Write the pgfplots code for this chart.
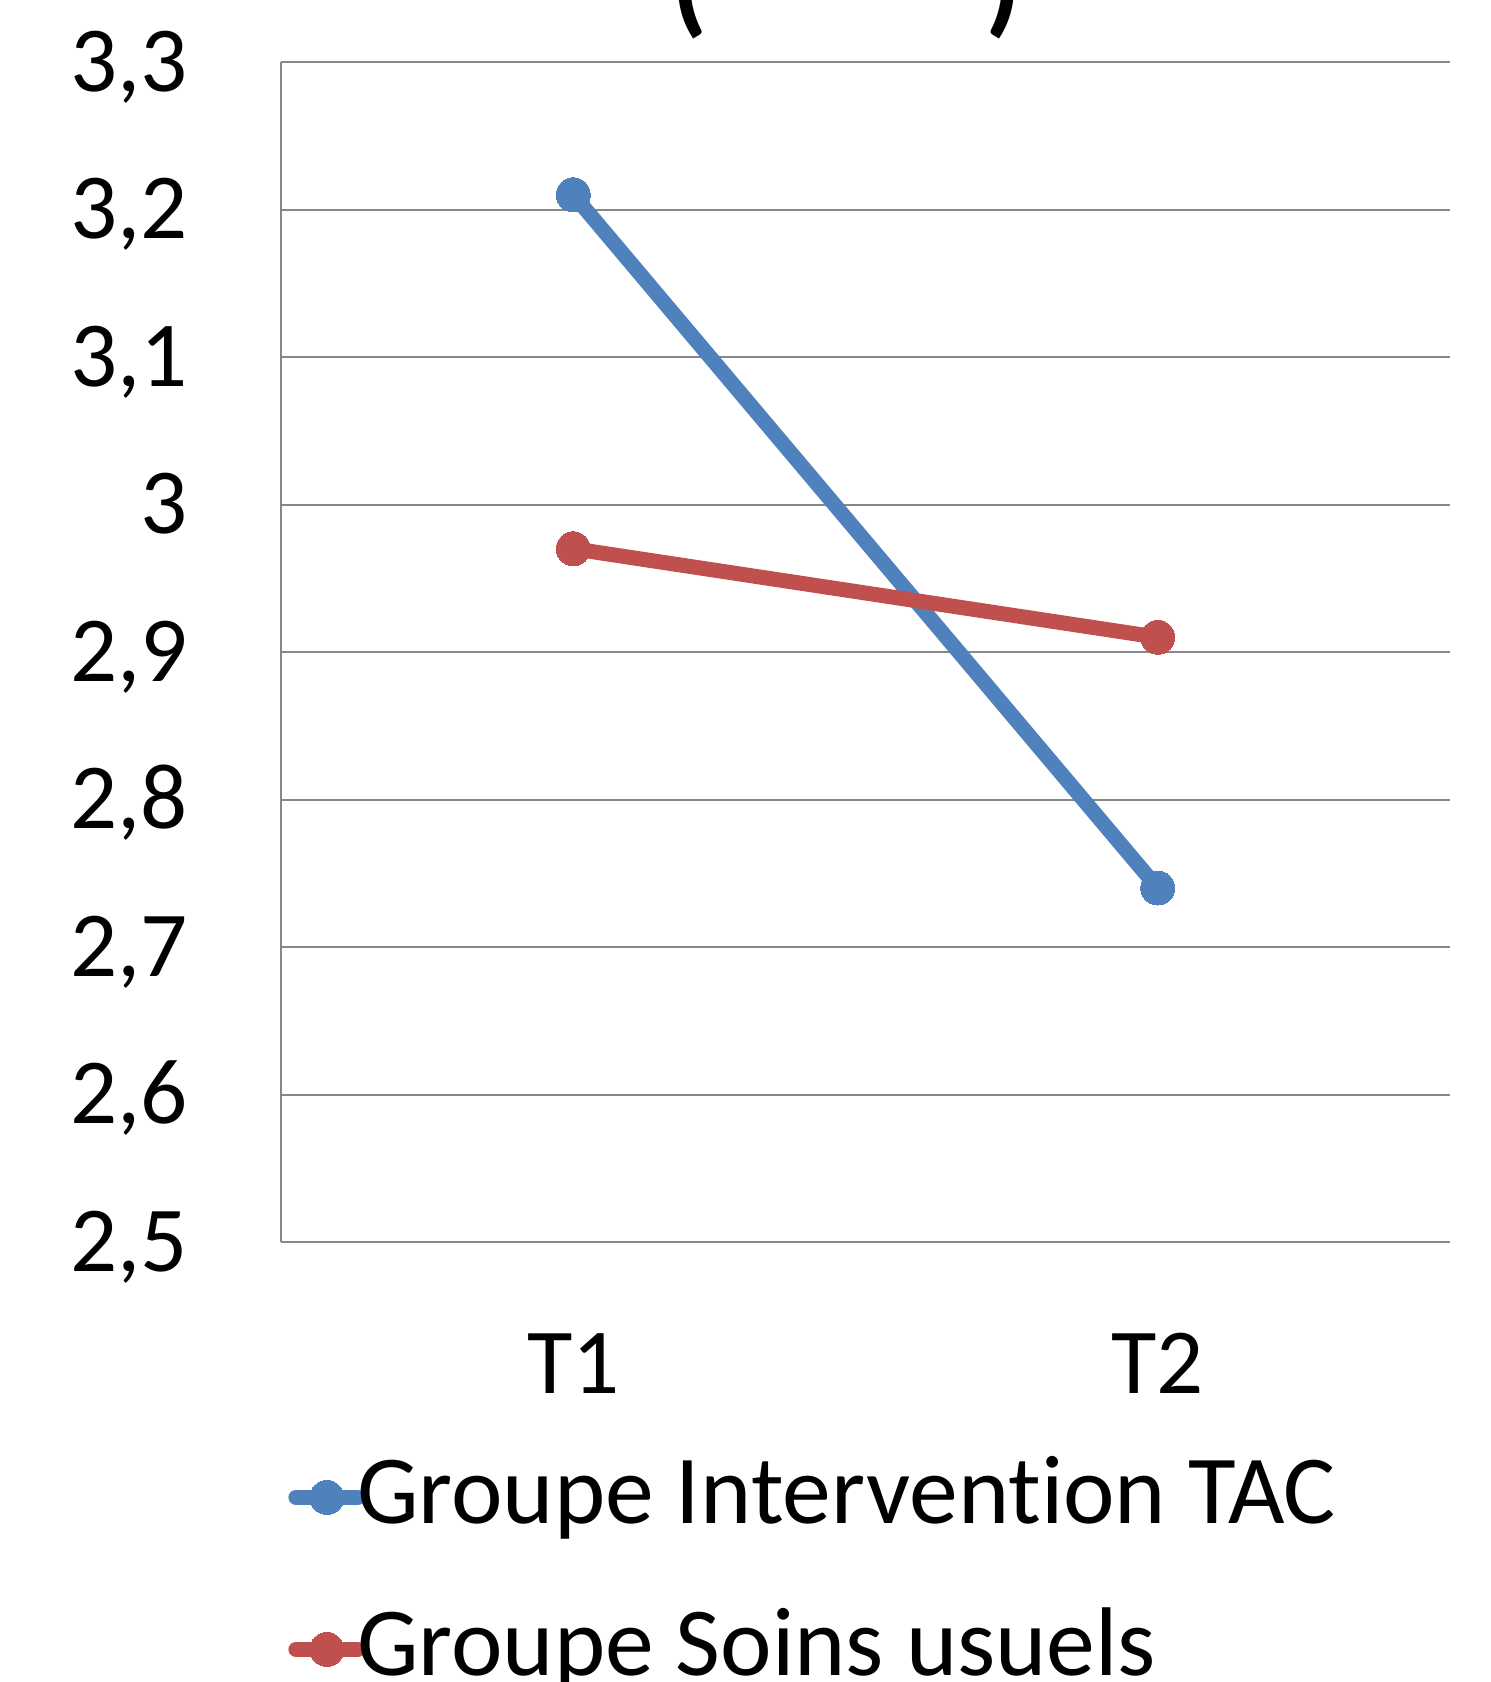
\documentclass[border=0pt]{standalone}
\usepackage{fontspec}
\setmainfont[Ligatures={NoCommon}]{Carlito}
\usepackage{pgfplots}
\pgfplotsset{compat=1.18}
\definecolor{exblue}{HTML}{4F81BD}
\definecolor{exred}{HTML}{C0504D}
\definecolor{gridc}{HTML}{878787}
\newcommand{\bigf}{\fontsize{46.5}{50}\selectfont}
\newcommand{\legf}{\fontsize{48.8}{52}\selectfont}
\begin{document}
\begin{tikzpicture}
\begin{axis}[
  at={(0pt,0pt)}, anchor=south west,
  scale only axis, width=584.5pt, height=590pt,
  xmin=-0.5, xmax=1.5, ymin=2.5, ymax=3.3,
  xtick={0,1}, xticklabels={T1,T2},
  ytick={2.5,2.6,2.7,2.8,2.9,3.0,3.1,3.2,3.3},
  ymajorgrids, grid style={gridc, line width=1pt},
  axis x line*=bottom, axis y line*=left,
  axis line style={gridc, line width=1pt, -},
  major tick length=0pt,
  /pgf/number format/assume math mode=true,
  yticklabel style={/pgf/number format/.cd, use comma, fixed, precision=1, /tikz/.cd,
    anchor=base east, xshift=-46.5pt, yshift=-14.7pt, inner sep=0pt, font=\bigf},
  xticklabel style={anchor=base, yshift=-75.7pt, inner sep=0pt, font=\bigf},
  legend style={at={(0,0)}, anchor=north west, xshift=0.5pt, yshift=-102.5pt,
    draw=none, fill=none, font=\legf, row sep=30pt,
    nodes={inner sep=0pt, text height=36pt, text depth=10pt},
    /tikz/every odd column/.append style={column sep=-4pt}},
  legend cell align=left,
  legend image code/.code={\draw[mark repeat=2,mark phase=2,line cap=round,#1] plot coordinates {(0pt,0pt) (15.5pt,0pt) (31pt,0pt)};},
]
\addplot[color=exblue, line width=7.5pt, mark=*, mark size=8.5pt, mark options={line width=0pt}] coordinates {(0,3.21) (1,2.74)};
\addlegendentry{Groupe Intervention TAC}
\addplot[color=exred, line width=7.5pt, mark=*, mark size=8.5pt, mark options={line width=0pt}] coordinates {(0,2.97) (1,2.91)};
\addlegendentry{Groupe Soins usuels}
\end{axis}
\node[font=\fontsize{58}{62}\selectfont\bfseries, anchor=base, inner sep=0pt] at (283pt,610pt) {(\hspace{139pt})};
\pgfresetboundingbox
\useasboundingbox (-140.5pt,-220pt) rectangle (605pt,621pt);
\end{tikzpicture}
\end{document}
